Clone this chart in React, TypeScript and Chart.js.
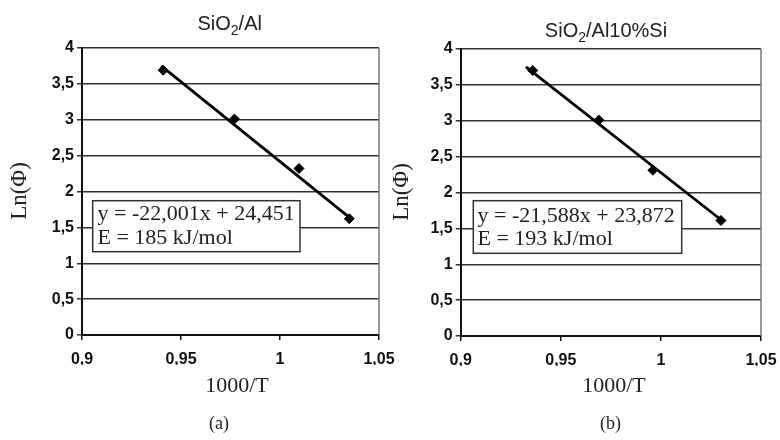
import React, { useEffect, useRef } from "react";
import { Chart, registerables } from "chart.js";

Chart.register(...registerables);

// ---- data ----
const LEFT_X = [0.941, 0.977, 1.0096, 1.035];
const LEFT_Y = [3.69, 3.01, 2.32, 1.62];
const LEFT_TREND_X = [0.94, 1.035];
const LEFT_TREND_Y = [3.75, 1.64];

const RIGHT_X = [0.936, 0.969, 0.996, 1.03];
const RIGHT_Y = [3.7, 3.01, 2.31, 1.61];
const RIGHT_TREND_X = [0.9326, 1.03];
const RIGHT_TREND_Y = [3.75, 1.62];

const X_MIN = 0.9;
const X_MAX = 1.05;
const X_STEP = 0.05;
const Y_MIN = 0;
const Y_MAX = 4;
const Y_STEP = 0.5;

const LEFT_TITLE = ["SiO", "2", "/Al"];
const RIGHT_TITLE = ["SiO", "2", "/Al10%Si"];
const LEFT_EQ = ["y = -22,001x + 24,451", "E = 185 kJ/mol"];
const RIGHT_EQ = ["y = -21,588x + 23,872", "E = 193 kJ/mol"];
const Y_TITLE = "Ln(Φ)";
const X_TITLE = "1000/T";
const LEFT_CAPTION = "(a)";
const RIGHT_CAPTION = "(b)";

// ---- layout (positions in canvas-local pixels) ----
const SANS = "'Liberation Sans', Arial, sans-serif";
const SERIF = "'Liberation Serif', 'Times New Roman', serif";

type PanelCfg = {
  left: number;
  width: number;
  xs: number[];
  ys: number[];
  tx: number[];
  ty: number[];
  title: string[];
  eq: string[];
  caption: string;
  pad: { left: number; top: number; right: number; bottom: number };
  yWidth: number;
  titlePos: [number, number];
  yTitlePos: [number, number];
  xTitlePos: [number, number];
  captionPos: [number, number];
  box: [number, number, number, number];
  eqText: [number, number, number];
};

const PANELS: PanelCfg[] = [
  {
    left: 0,
    width: 400,
    xs: LEFT_X,
    ys: LEFT_Y,
    tx: LEFT_TREND_X,
    ty: LEFT_TREND_Y,
    title: LEFT_TITLE,
    eq: LEFT_EQ,
    caption: LEFT_CAPTION,
    pad: { left: 0, top: 48, right: 21, bottom: 75 },
    yWidth: 82,
    titlePos: [229.7, 30],
    yTitlePos: [20, 191],
    xTitlePos: [237, 386],
    captionPos: [219, 424],
    box: [92.7, 200.7, 300, 251.7],
    eqText: [97.5, 220, 243.5],
  },
  {
    left: 390,
    width: 390,
    xs: RIGHT_X,
    ys: RIGHT_Y,
    tx: RIGHT_TREND_X,
    ty: RIGHT_TREND_Y,
    title: RIGHT_TITLE,
    eq: RIGHT_EQ,
    caption: RIGHT_CAPTION,
    pad: { left: 0, top: 49, right: 19, bottom: 74 },
    yWidth: 70.7,
    titlePos: [216, 37],
    yTitlePos: [11.5, 192],
    xTitlePos: [224, 386],
    captionPos: [220.5, 424],
    box: [83.3, 200.7, 291.7, 253.3],
    eqText: [87.5, 221.5, 245],
  },
];

const fmt = (v: number) => {
  const n = Number(Number(v).toFixed(2));
  return String(n).replace(".", ",");
};

function makeDecor(cfg: PanelCfg) {
  return {
    id: "decor",
    afterDraw(chart: any) {
      const ctx = chart.ctx as CanvasRenderingContext2D;
      const a = chart.chartArea;
      ctx.save();
      // right frame border
      ctx.strokeStyle = "#777";
      ctx.lineWidth = 1.5;
      ctx.beginPath();
      ctx.moveTo(a.right, a.top);
      ctx.lineTo(a.right, a.bottom);
      ctx.stroke();

      // title with subscript
      ctx.fillStyle = "#222";
      ctx.textBaseline = "alphabetic";
      ctx.textAlign = "left";
      const big = `20px ${SANS}`;
      const small = `14px ${SANS}`;
      ctx.font = big;
      const w0 = ctx.measureText(cfg.title[0]).width;
      const w2 = ctx.measureText(cfg.title[2]).width;
      ctx.font = small;
      const w1 = ctx.measureText(cfg.title[1]).width;
      const total = w0 + w1 + w2;
      let tx = cfg.titlePos[0] - total / 2;
      const tb = cfg.titlePos[1];
      ctx.font = big;
      ctx.fillText(cfg.title[0], tx, tb);
      tx += w0;
      ctx.font = small;
      ctx.fillText(cfg.title[1], tx, tb + 5);
      tx += w1;
      ctx.font = big;
      ctx.fillText(cfg.title[2], tx, tb);

      // y title (rotated)
      ctx.save();
      ctx.translate(cfg.yTitlePos[0], cfg.yTitlePos[1]);
      ctx.rotate(-Math.PI / 2);
      ctx.font = `23px ${SERIF}`;
      ctx.textAlign = "center";
      ctx.textBaseline = "middle";
      ctx.fillStyle = "#222";
      ctx.fillText(Y_TITLE, 0, 0);
      ctx.restore();

      // x title
      ctx.font = `22px ${SERIF}`;
      ctx.textAlign = "center";
      ctx.textBaseline = "middle";
      ctx.fillStyle = "#222";
      ctx.fillText(X_TITLE, cfg.xTitlePos[0], cfg.xTitlePos[1]);

      // caption
      ctx.font = `18px ${SERIF}`;
      ctx.fillText(cfg.caption, cfg.captionPos[0], cfg.captionPos[1]);

      // equation box
      const [bx0, by0, bx1, by1] = cfg.box;
      ctx.fillStyle = "#fff";
      ctx.fillRect(bx0, by0, bx1 - bx0, by1 - by0);
      ctx.strokeStyle = "#333";
      ctx.lineWidth = 1.5;
      ctx.strokeRect(bx0, by0, bx1 - bx0, by1 - by0);
      ctx.fillStyle = "#222";
      ctx.font = `22px ${SERIF}`;
      ctx.textAlign = "left";
      ctx.textBaseline = "alphabetic";
      ctx.fillText(cfg.eq[0], cfg.eqText[0], cfg.eqText[1]);
      ctx.fillText(cfg.eq[1], cfg.eqText[0], cfg.eqText[2]);
      ctx.restore();
    },
  };
}

function Panel({ cfg }: { cfg: PanelCfg }) {
  const ref = useRef<HTMLCanvasElement | null>(null);
  useEffect(() => {
    if (!ref.current) return;
    const points = cfg.xs.map((x, i) => ({ x, y: cfg.ys[i] }));
    const trend = cfg.tx.map((x, i) => ({ x, y: cfg.ty[i] }));
    const tickFont = { family: SANS, size: 16, weight: "bold" };
    const chart = new Chart(ref.current, {
      type: "scatter",
      data: {
        datasets: [
          {
            label: "data",
            data: points,
            pointStyle: "rectRot",
            pointRadius: 5,
            backgroundColor: "#000",
            borderColor: "#000",
            borderWidth: 1,
          },
          {
            label: "trend",
            type: "line",
            data: trend,
            borderColor: "#000",
            borderWidth: 2.8,
            pointRadius: 0,
            fill: false,
            showLine: true,
          } as any,
        ],
      },
      options: {
        responsive: false,
        animation: false,
        devicePixelRatio: 1,
        layout: { padding: cfg.pad },
        plugins: {
          legend: { display: false },
          tooltip: { enabled: false },
          title: { display: false },
        },
        scales: {
          x: {
            type: "linear",
            min: X_MIN,
            max: X_MAX,
            afterBuildTicks: (scale: any) => {
              const t = [];
              for (let v = X_MIN; v <= X_MAX + 1e-9; v += X_STEP) t.push({ value: Number(v.toFixed(2)) });
              scale.ticks = t;
            },
            ticks: {
              callback: (v: any) => fmt(v),
              font: tickFont,
              color: "#111",
              padding: 10,
              maxRotation: 0,
              autoSkip: false,
            },
            grid: {
              drawOnChartArea: false,
              drawTicks: true,
              tickLength: 5,
              color: "#111",
              lineWidth: 1.5,
            },
            border: { display: true, color: "#111", width: 2 },
            afterFit: (scale: any) => {
              scale.height = 30;
              scale.paddingLeft = 0;
              scale.paddingRight = 0;
              scale.paddingTop = 0;
              scale.paddingBottom = 0;
            },
          },
          y: {
            type: "linear",
            min: Y_MIN,
            max: Y_MAX,
            ticks: {
              stepSize: Y_STEP,
              callback: (v: any) => fmt(v),
              font: tickFont,
              color: "#111",
              padding: 3,
            },
            grid: {
              drawTicks: true,
              tickLength: 5,
              color: "#333",
              lineWidth: 1.5,
            },
            border: { display: true, color: "#111", width: 2 },
            afterFit: (scale: any) => {
              scale.width = cfg.yWidth;
              scale.paddingLeft = 0;
              scale.paddingRight = 0;
              scale.paddingTop = 0;
              scale.paddingBottom = 0;
            },
          },
        },
      } as any,
      plugins: [makeDecor(cfg)],
    });
    return () => chart.destroy();
  }, [cfg]);
  return (
    <canvas
      ref={ref}
      width={cfg.width}
      height={440}
      style={{ position: "absolute", left: cfg.left, top: 0, width: cfg.width, height: 440 }}
    />
  );
}

export default function App() {
  return (
    <div style={{ position: "fixed", left: 0, top: 0, width: 780, height: 440, background: "#fff" }}>
      {PANELS.map((p, i) => (
        <Panel key={i} cfg={p} />
      ))}
    </div>
  );
}
